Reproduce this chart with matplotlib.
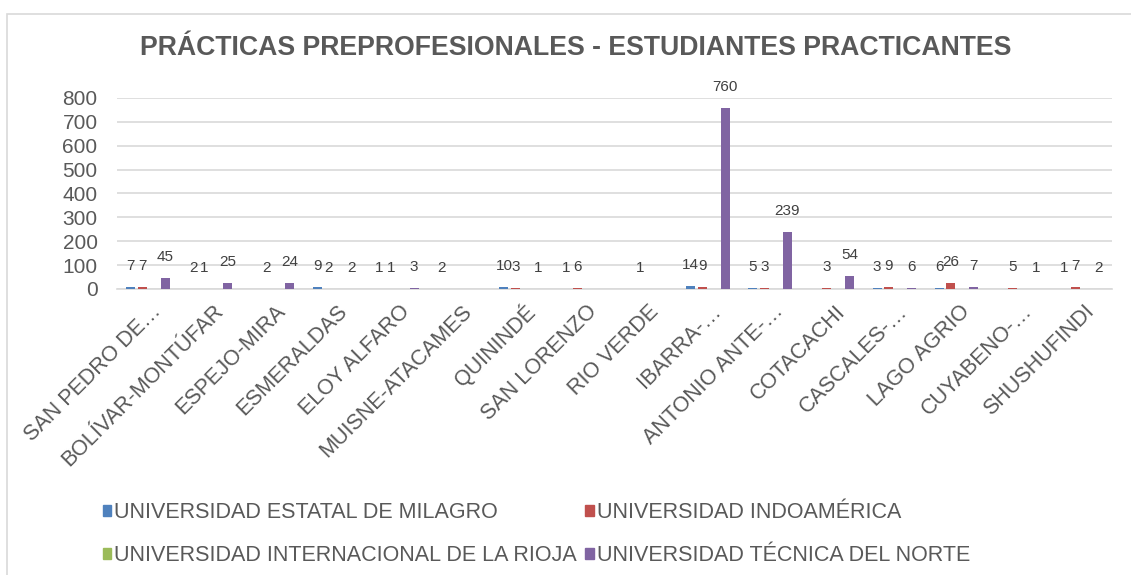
import matplotlib.pyplot as plt
import numpy as np
from matplotlib.patches import Patch, Rectangle
from matplotlib.transforms import ScaledTranslation

plt.rcParams['font.family'] = ['Liberation Sans', 'DejaVu Sans']

# categories (as shown, truncated like the original)
cantones = ["SAN PEDRO DE…", "BOLÍVAR-MONTÚFAR", "ESPEJO-MIRA", "ESMERALDAS",
            "ELOY ALFARO", "MUISNE-ATACAMES", "QUININDÉ", "SAN LORENZO",
            "RIO VERDE", "IBARRA-…", "ANTONIO ANTE-…", "COTACACHI",
            "CASCALES-…", "LAGO AGRIO", "CUYABENO-…", "SHUSHUFINDI"]

nan = np.nan
milagro = [7, 2, nan, 9, 1, 2, 10, 1, nan, 14, 5, nan, 3, 6, nan, 1]
indoamerica = [7, 1, 2, 2, 1, nan, 3, 6, 1, 9, 3, 3, 9, 26, 5, 7]
rioja = [nan] * 16
tecnica_norte = [45, 25, 24, 2, 3, nan, 1, nan, nan, 760, 239, 54, 6, 7, 1, 2]

series = [
    ("UNIVERSIDAD ESTATAL DE MILAGRO", milagro, "#4F81BD"),
    ("UNIVERSIDAD INDOAMÉRICA", indoamerica, "#C0504D"),
    ("UNIVERSIDAD INTERNACIONAL DE LA RIOJA", rioja, "#9BBB59"),
    ("UNIVERSIDAD TÉCNICA DEL NORTE", tecnica_norte, "#8064A2"),
]

txt = "#595959"
grid = "#D9D9D9"

fig = plt.figure(figsize=(11.31, 5.75), dpi=100)
ax = fig.add_axes([117/1131, 1-289/575, (1112-117)/1131, (289-98)/575])

x = np.arange(len(cantones))
w = 0.145
step = 0.185
for i, (name, vals, col) in enumerate(series):
    vals = np.array(vals, dtype=float)
    pos = x + (i - 1.5) * step
    ax.bar(pos, np.nan_to_num(vals), w, color=col, zorder=3)
    for px, v in zip(pos, vals):
        if np.isnan(v):
            continue
        ax.annotate(f"{int(v)}", (px, v), xytext=(0, 10), textcoords="offset points",
                    ha="center", va="bottom", fontsize=11, color="#404040")

ax.set_xlim(-0.5, len(cantones) - 0.5)
ax.set_ylim(0, 800)
ax.set_yticks(np.arange(0, 801, 100))
ax.yaxis.grid(True, color=grid, lw=1.2, zorder=0)
for s in ["top", "right", "left"]:
    ax.spines[s].set_visible(False)
ax.spines["bottom"].set_color(grid)
ax.spines["bottom"].set_linewidth(1.2)
ax.tick_params(axis="y", length=0, pad=14, labelsize=15, labelcolor=txt)
ax.tick_params(axis="x", length=0, pad=14, labelsize=15.5, labelcolor=txt)
ax.set_xticks(x)
ax.set_xticklabels(cantones, rotation=45, ha="right", va="center", rotation_mode="anchor")
shift = ScaledTranslation(10/100, 0, fig.dpi_scale_trans)
for lab in ax.get_xticklabels():
    lab.set_transform(lab.get_transform() + shift)

fig.text(0.509, 1-48/575, "PRÁCTICAS PREPROFESIONALES - ESTUDIANTES PRACTICANTES",
         ha="center", va="center", fontsize=19.2, fontweight="bold", color=txt)

handles = [Patch(color=c) for _, _, c in series]
labels = [n for n, _, _ in series]
order = [0, 2, 1, 3]
fig.legend([handles[k] for k in order], [labels[k] for k in order],
           ncol=2, loc="upper left", bbox_to_anchor=(92/1131, 1-491/575),
           frameon=False, fontsize=15.5, labelcolor=txt,
           handlelength=0.4, handleheight=0.4, handletextpad=0.12,
           columnspacing=0.4, labelspacing=1.05, borderpad=0)

fig.patches.append(Rectangle((7/1131, -0.05), 1.2, (575-14)/575 + 0.05,
                             transform=fig.transFigure, fill=False,
                             edgecolor=grid, lw=1.2))

fig.savefig("out.png", dpi=100)
